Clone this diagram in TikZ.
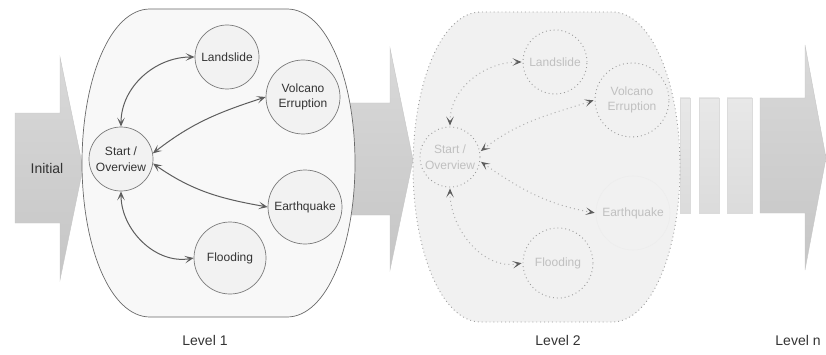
\documentclass[tikz,border=0pt]{standalone}
\usepackage{fontspec}
\setmainfont{Liberation Sans}
\usetikzlibrary{arrows.meta}
\definecolor{boxfill}{HTML}{F8F8F8}
\definecolor{boxline}{HTML}{6A6A6A}
\definecolor{circfill}{HTML}{F2F2F2}
\definecolor{circline}{HTML}{7A7A7A}
\definecolor{txt}{HTML}{333333}
\definecolor{fadefill}{HTML}{F1F1F1}
\definecolor{fadeline}{HTML}{9A9A9A}
\definecolor{fadetxt}{HTML}{C0C0C0}
\definecolor{edgecol}{HTML}{5E5E5E}
\tikzset{
  bigarrow/.style={top color=gray!30, bottom color=gray!45, draw=gray!45, line width=0.4pt},
  barrect/.style={top color=gray!18, bottom color=gray!28, draw=gray!28, line width=0.4pt},
  lvlbox/.style={fill=boxfill, draw=boxline, line width=0.7pt},
  fadebox/.style={draw=fadeline, line width=0.9pt, dash pattern=on 0.9pt off 3pt},
  topic/.style={circle, fill=circfill, draw=circline, line width=0.7pt, text=txt, align=center, inner sep=0pt, font=\fontsize{12}{15.5}\selectfont},
  fadetopic/.style={circle, fill=fadefill, draw=fadeline, line width=0.9pt, dash pattern=on 0.9pt off 3pt, text=fadetxt, align=center, inner sep=0pt, font=\fontsize{12}{15.5}\selectfont},
  tip/.tip={Stealth[length=9pt,width=7.5pt,inset=4.5pt]},
  link/.style={draw=edgecol, line width=1pt, tip-tip},
  fadelink/.style={draw=gray!62, line width=1pt, dash pattern=on 1pt off 3.2pt, {Stealth[length=9pt,width=7.5pt,inset=4.5pt,sep=1pt,color=edgecol]}-{Stealth[length=9pt,width=7.5pt,inset=4.5pt,sep=1pt,color=edgecol]}},
  caption/.style={text=txt, font=\fontsize{14}{16}\selectfont}
}
\begin{document}
\begin{tikzpicture}[x=1pt,y=1pt]
\useasboundingbox (0,0) rectangle (826,354);
% Initial arrow
\path[bigarrow] (15,131) -- (15,241) -- (60,241) -- (60,297) -- (83,186) -- (60,74) -- (60,131) -- cycle;
\node[caption] (init) at (47,186) {Initial};
% middle arrow
\path[bigarrow] (340,139) -- (340,251) -- (390,251) -- (390,306) -- (413,194) -- (390,84) -- (390,139) -- cycle;
% Level 1 box
\path[lvlbox] (82,191) .. controls (82,274) and (110,345) .. (150,345) -- (287,345)
  .. controls (327,345) and (355,274) .. (355,191)
  .. controls (355,108) and (327,37) .. (287,37) -- (150,37)
  .. controls (110,37) and (82,108) .. (82,191) -- cycle;
% Level 1 nodes
\node[topic, minimum size=64pt] (s1) at (121,195) {Start /\\Overview};
\node[topic, minimum size=64pt] (l1) at (227,297) {Landslide};
\node[topic, minimum size=74pt] (v1) at (303,257) {Volcano\\Erruption};
\node[topic, minimum size=74pt] (e1) at (305,147) {Earthquake};
\node[topic, minimum size=72pt] (f1) at (230,96) {Flooding};
\draw[link] (s1.north) to[out=90,in=180] (l1.west);
\draw[link] (s1.10) to[out=38,in=198] (v1.west);
\draw[link] (s1.-8) to[out=-35,in=170] (e1.west);
\draw[link] (s1.south) to[out=-90,in=190] (f1.west);
% Level 2 box fill
\path[fill=fadefill] (413,187) .. controls (413,270) and (441,342) .. (481,342) -- (612,342)
  .. controls (652,342) and (680,270) .. (680,187)
  .. controls (680,104) and (652,32) .. (612,32) -- (481,32)
  .. controls (441,32) and (413,104) .. (413,187) -- cycle;
% bars
\path[barrect] (680,141) rectangle (690,256);
\path[barrect] (699,141) rectangle (719,256);
\path[barrect] (727,141) rectangle (752,256);
% Level 2 box border
\path[fadebox] (413,187) .. controls (413,270) and (441,342) .. (481,342) -- (612,342)
  .. controls (652,342) and (680,270) .. (680,187)
  .. controls (680,104) and (652,32) .. (612,32) -- (481,32)
  .. controls (441,32) and (413,104) .. (413,187) -- cycle;
% Level n arrow
\path[bigarrow] (760,141) -- (760,256) -- (805,256) -- (805,309) -- (826,196) -- (805,84) -- (805,141) -- cycle;
% Level 2 nodes
\node[fadetopic, minimum size=60pt] (s2) at (450,197) {Start /\\Overview};
\node[fadetopic, minimum size=64pt] (l2) at (555,292) {Landslide};
\node[fadetopic, minimum size=74pt] (v2) at (632,254) {Volcano\\Erruption};
\node[circle, fill=fadefill, draw=gray!14, line width=0.6pt, text=fadetxt, inner sep=0pt, minimum size=74pt, font=\fontsize{12}{15.5}\selectfont] (e2) at (633,141) {Earthquake};
\node[fadetopic, minimum size=70pt] (f2) at (558,91) {Flooding};
\draw[fadelink] (s2.north) to[out=90,in=180] (l2.west);
\draw[fadelink] (s2.10) to[out=38,in=198] (v2.west);
\draw[fadelink] (s2.-8) to[out=-35,in=170] (e2.west);
\draw[fadelink] (s2.south) to[out=-90,in=190] (f2.west);
% captions
\node[caption] (c1) at (205,14) {Level 1};
\node[caption] (c2) at (558,14) {Level 2};
\node[caption] (cn) at (798,14) {Level n};
\end{tikzpicture}
\end{document}
